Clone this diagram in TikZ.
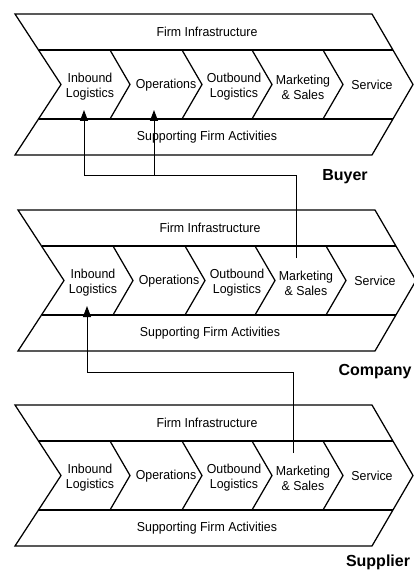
\documentclass[tikz,border=0pt]{standalone}
\usepackage{fontspec}
\setmainfont{Liberation Sans}
\newfontfamily\actfamily[FakeStretch=0.95]{Liberation Sans}
\newcommand\actfont{\actfamily\fontsize{13}{15}\selectfont}
\usetikzlibrary{arrows.meta}

% one value chain: #1 = name prefix, #2/#3 = offset
\newcommand\valuechain[3]{%
  \begin{scope}[shift={(#2,#3)}]
    \draw[outline] (15,14) -- (372,14) -- (413,84.5) -- (372,155) -- (15,155) -- (61,84.5) -- cycle;
    \draw[outline] (38.5,50) -- (393,50);
    \draw[outline] (38.5,119) -- (393,119);
    \foreach \t in {110,182,252,323}
      \draw[outline] (\t,50) -- (\t+20,84.5) -- (\t,119);
    \node[act] (#1-fi) at (207,32) {Firm Infrastructure};
    \node[act] (#1-ib) at (90,87) {Inbound\\Logistics};
    \node[act] (#1-op) at (166,85) {Operations};
    \node[act] (#1-ob) at (234,87) {Outbound\\Logistics};
    \node[act] (#1-mk) at (303,87) {Marketing\\\& Sales};
    \node[act] (#1-sv) at (372,85) {Service};
    \node[act] (#1-sf) at (207,137) {Supporting Firm Activities};
    \coordinate (#1-in) at (293,62);
    \coordinate (#1-ibin) at (84,110);
    \coordinate (#1-opin) at (154,110);
  \end{scope}}

\begin{document}
\begin{tikzpicture}[x=1pt,y=-1pt,
  outline/.style={line width=1.25pt, line join=miter},
  act/.style={font=\actfont, align=center, inner sep=0pt},
  tag/.style={font=\bfseries\fontsize{16}{18}\selectfont, inner sep=0pt},
  link/.style={line width=1pt},
  up/.style={link, -{Triangle[length=11pt,width=8pt]}}]

  \useasboundingbox (0,0) rectangle (414,575);

  \valuechain{B}{0}{0}
  \valuechain{C}{3}{196}
  \valuechain{S}{0}{391}

  \node[tag] (buyer) at (345,177) {Buyer};
  \node[tag] (company) at (375,372) {Company};
  \node[tag] (supplier) at (378,562) {Supplier};

  % buyer receives from the company's marketing & sales
  \coordinate (Bbus) at (0,175);
  \draw[up] (C-in) |- (B-ibin |- Bbus) -- (B-ibin);
  \draw[up] (B-opin |- Bbus) -- (B-opin);

  % company receives from the supplier's marketing & sales
  \coordinate (Cbus) at (0,372);
  \draw[up] (S-in) |- (C-ibin |- Cbus) -- (C-ibin);
\end{tikzpicture}
\end{document}
